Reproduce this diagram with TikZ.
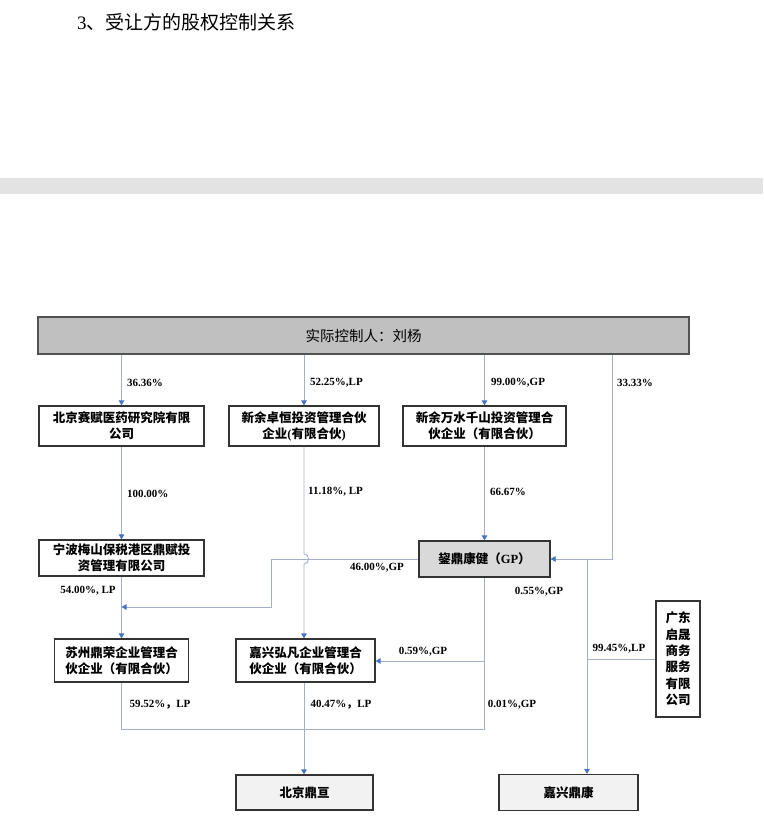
\documentclass[tikz,border=0pt]{standalone}
\usepackage{fontspec}
\setmainfont{Liberation Serif}
\newfontfamily\cjk{Noto Sans CJK SC}
\usetikzlibrary{arrows.meta,calc}
\definecolor{linec}{HTML}{A3AFCB}
\definecolor{tipc}{HTML}{4472C4}
\definecolor{bordc}{HTML}{333333}
\definecolor{bandc}{HTML}{E3E3E3}
\definecolor{topfill}{HTML}{C0C0C0}
\definecolor{gpfill}{HTML}{D9D9D9}
\definecolor{endfill}{HTML}{F2F2F2}
\begin{document}
\begin{tikzpicture}[x=1pt,y=-1pt,
  box/.style={draw=bordc, line width=1.2pt, align=center, inner sep=0pt,
    font=\cjk\bfseries\fontsize{12.5}{16}\selectfont},
  lbl/.style={font=\rmfamily\bfseries\fontsize{11}{13}\selectfont, inner sep=0pt},
  ln/.style={draw=linec, line width=0.9pt},
  conn/.style={ln, -{Triangle[width=5.5pt,length=5pt,color=tipc]}}]
\useasboundingbox (0,0) rectangle (763,840);
% title and band
\node[anchor=west, inner sep=0pt, font=\fontsize{19}{21}\selectfont] (title) at (77,22) {3{\cjk 、受让方的股权控制关系}};
\fill[bandc] (0,178) rectangle (763,194);
% boxes
\node[box, fill=topfill, draw=bordc!85, minimum width=651pt, minimum height=37pt,
  font=\cjk\fontsize{14.5}{16}\selectfont] (top) at (363.5,335.5) {实际控制人：刘杨};
\node[box, minimum width=165pt, minimum height=40pt] (A) at (121.5,426) {北京赛赋医药研究院有限\\公司};
\node[box, minimum width=150pt, minimum height=40pt] (B) at (304,426) {新余卓恒投资管理合伙\\企业{\rmfamily(}有限合伙{\rmfamily)}};
\node[box, minimum width=163pt, minimum height=40pt] (C) at (484.5,426) {新余万水千山投资管理合\\伙企业（有限合伙）};
\node[box, minimum width=165pt, minimum height=36pt] (N) at (121.5,558) {宁波梅山保税港区鼎赋投\\资管理有限公司};
\node[box, fill=gpfill, minimum width=131pt, minimum height=36pt] (J) at (484.5,559) {鋆鼎康健（{\rmfamily GP}）};
\node[box, minimum width=134pt, minimum height=43pt] (S) at (121.5,660.5) {苏州鼎荣企业管理合\\伙企业（有限合伙）};
\node[box, minimum width=139pt, minimum height=43pt] (H) at (305.5,660.5) {嘉兴弘凡企业管理合\\伙企业（有限合伙）};
\node[box, minimum width=44pt, minimum height=116pt, font=\cjk\bfseries\fontsize{12.5}{16.4}\selectfont] (G) at (678,659) {广东\\启晟\\商务\\服务\\有限\\公司};
\node[box, fill=endfill, minimum width=137pt, minimum height=35pt] (BJ) at (304.5,792.5) {北京鼎亘};
\node[box, fill=endfill, minimum width=139pt, minimum height=36pt] (JK) at (568.5,792.5) {嘉兴鼎康};
% helper coordinates
\coordinate (x33) at (612,0);
\coordinate (x55) at (587,0);
\coordinate (k46) at (271,607);
\coordinate (k59) at (0,661);
\coordinate (kb) at (0,729);
% connectors
\draw[conn] (top.south -| A.north) -- (A.north);
\draw[conn] (top.south -| B.north) -- (B.north);
\draw[conn] (top.south -| C.north) -- (C.north);
\draw[conn] (top.south -| x33) -- (x33 |- J.east) -- (J.east);
\draw[conn] (A.south) -- (N.north);
\draw[conn] (B.south) -- ([yshift=5pt]B.south |- J.west) .. controls +(6,0) and +(6,0) .. ([yshift=-5pt]B.south |- J.west) -- (B.south |- H.north);
\draw[conn] (C.south) -- (J.north);
\draw[conn] (J.west) -| (k46) -- (k46 -| N.south);
\draw[conn] (N.south) -- (S.north);
\draw[ln] (S.south) |- (J.south |- kb) -- (J.south);
\draw[conn] (J.south |- k59) -- (k59 -| H.east);
\draw[conn] (B.south |- H.south) -- (B.south |- BJ.north);
\draw[conn] (x55 |- J.east) -- (x55 |- JK.north);
\draw[ln] (G.west) -- (G.west -| x55);
% labels
\node[lbl, anchor=west] (l1) at (127,383) {36.36\%};
\node[lbl, anchor=west] (l2) at (310,383) {52.25\%,LP};
\node[lbl, anchor=west] (l3) at (491,383) {99.00\%,GP};
\node[lbl, anchor=west] (l4) at (617,383) {33.33\%};
\node[lbl, anchor=west] (l5) at (127,494) {100.00\%};
\node[lbl, anchor=west] (l6) at (308,492) {11.18\%, LP};
\node[lbl, anchor=west] (l7) at (490,492) {66.67\%};
\node[lbl] (l8) at (377,568) {46.00\%,GP};
\node[lbl] (l9) at (88,591) {54.00\%, LP};
\node[lbl] (l10) at (539,592) {0.55\%,GP};
\node[lbl] (l11) at (423,652) {0.59\%,GP};
\node[lbl] (l12) at (619,649) {99.45\%,LP};
\node[lbl] (l13) at (160,705) {59.52\%{\cjk ，}LP};
\node[lbl] (l14) at (341,705) {40.47\%{\cjk ，}LP};
\node[lbl] (l15) at (512,705) {0.01\%,GP};
\end{tikzpicture}
\end{document}
